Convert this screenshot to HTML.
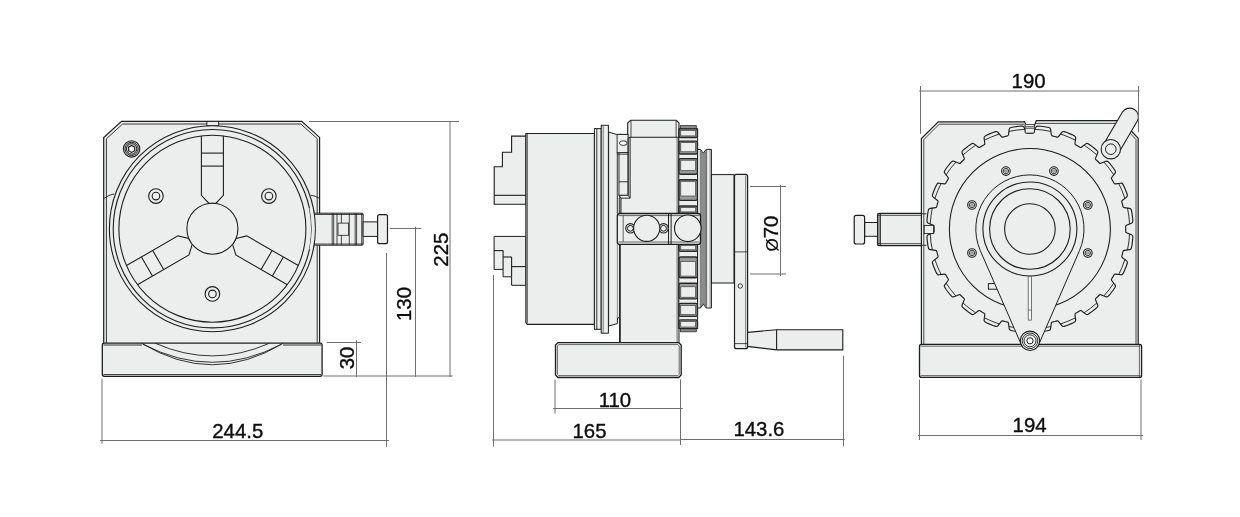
<!DOCTYPE html>
<html><head><meta charset="utf-8"><title>Dimensions</title>
<style>html,body{margin:0;padding:0;background:#fff;}body{width:1240px;height:517px;overflow:hidden;font-family:"Liberation Sans",sans-serif;}svg{display:block;will-change:transform;}</style>
</head><body>
<svg width="1240" height="517" viewBox="0 0 1240 517" font-family="'Liberation Sans', Arial, sans-serif">
<path d="M121.50,121.40 L301.80,121.40 L319.60,137.40 L319.60,343.50 L103.70,343.50 L103.70,137.60 Z" fill="#eceeed" stroke="#1e1e1e" stroke-width="1.2" stroke-linejoin="miter"/>
<path d="M122.60,124.00 L300.80,124.00 L317.20,138.60 L317.20,343.50 L106.40,343.50 L106.40,138.80 Z" fill="none" stroke="#2a2a2a" stroke-width="0.95" stroke-linejoin="miter"/>
<rect x="206.90" y="121.40" width="11.70" height="4.30" rx="0" fill="#eceeed" stroke="#1e1e1e" stroke-width="0.9"/>
<path d="M103.7,198.6 Q109,194.6 114.3,193.9" fill="none" stroke="#1e1e1e" stroke-width="0.9" />
<path d="M319.6,198.4 Q315,195.6 310.5,195.2" fill="none" stroke="#1e1e1e" stroke-width="0.9" />
<circle cx="212.40" cy="228.70" r="103.00" fill="#eceeed" stroke="#1e1e1e" stroke-width="1.1"/>
<circle cx="212.40" cy="228.70" r="99.20" fill="none" stroke="#1e1e1e" stroke-width="1.1"/>
<circle cx="212.40" cy="228.70" r="93.50" fill="none" stroke="#1e1e1e" stroke-width="1.1"/>
<path d="M201.40,135.85 L201.40,195.30 L208.95,203.40 L215.85,203.40 L223.40,195.30 L223.40,135.85" fill="none" stroke="#1e1e1e" stroke-width="1.1" stroke-linejoin="miter"/>
<line x1="201.40" y1="153.10" x2="223.40" y2="153.10" stroke="#1e1e1e" stroke-width="1.1"/>
<line x1="201.40" y1="166.10" x2="223.40" y2="166.10" stroke="#1e1e1e" stroke-width="1.1"/>
<path d="M298.31,265.60 L246.83,235.87 L236.04,238.36 L232.59,244.34 L235.83,254.93 L287.31,284.65" fill="none" stroke="#1e1e1e" stroke-width="1.1" stroke-linejoin="miter"/>
<line x1="283.37" y1="256.97" x2="272.37" y2="276.03" stroke="#1e1e1e" stroke-width="1.1"/>
<line x1="272.11" y1="250.47" x2="261.11" y2="269.53" stroke="#1e1e1e" stroke-width="1.1"/>
<path d="M137.49,284.65 L188.97,254.93 L192.21,244.34 L188.76,238.36 L177.97,235.87 L126.49,265.60" fill="none" stroke="#1e1e1e" stroke-width="1.1" stroke-linejoin="miter"/>
<line x1="152.43" y1="276.03" x2="141.43" y2="256.97" stroke="#1e1e1e" stroke-width="1.1"/>
<line x1="163.69" y1="269.53" x2="152.69" y2="250.47" stroke="#1e1e1e" stroke-width="1.1"/>
<circle cx="212.40" cy="228.70" r="25.50" fill="#eceeed" stroke="#1e1e1e" stroke-width="1.1"/>
<circle cx="155.94" cy="196.10" r="7.30" fill="none" stroke="#1e1e1e" stroke-width="1.1"/>
<circle cx="155.94" cy="196.10" r="3.80" fill="none" stroke="#1e1e1e" stroke-width="1.1"/>
<circle cx="268.86" cy="196.10" r="7.30" fill="none" stroke="#1e1e1e" stroke-width="1.1"/>
<circle cx="268.86" cy="196.10" r="3.80" fill="none" stroke="#1e1e1e" stroke-width="1.1"/>
<circle cx="212.40" cy="293.90" r="7.30" fill="none" stroke="#1e1e1e" stroke-width="1.1"/>
<circle cx="212.40" cy="293.90" r="3.80" fill="none" stroke="#1e1e1e" stroke-width="1.1"/>
<circle cx="131.60" cy="148.90" r="8.20" fill="#dcdcdc" stroke="#1e1e1e" stroke-width="1.1"/>
<circle cx="131.60" cy="148.90" r="6.60" fill="none" stroke="#1e1e1e" stroke-width="1.0"/>
<circle cx="131.60" cy="148.90" r="5.20" fill="none" stroke="#1e1e1e" stroke-width="1.0"/>
<path d="M134.63,150.65 L131.60,152.40 L128.57,150.65 L128.57,147.15 L131.60,145.40 L134.63,147.15 Z" fill="#fff" stroke="#1e1e1e" stroke-width="1.2" stroke-linejoin="miter"/>
<rect x="314.50" y="213.20" width="48.60" height="32.00" rx="1" fill="#eceeed" stroke="#1e1e1e" stroke-width="1.0"/>
<line x1="314.50" y1="214.50" x2="363.10" y2="214.50" stroke="#1e1e1e" stroke-width="0.8"/>
<line x1="314.50" y1="244.00" x2="363.10" y2="244.00" stroke="#1e1e1e" stroke-width="0.8"/>
<line x1="332.20" y1="213.20" x2="332.20" y2="245.20" stroke="#1e1e1e" stroke-width="0.8"/>
<line x1="333.70" y1="213.20" x2="333.70" y2="245.20" stroke="#1e1e1e" stroke-width="0.8"/>
<line x1="337.00" y1="213.20" x2="337.00" y2="245.20" stroke="#1e1e1e" stroke-width="0.8"/>
<line x1="341.40" y1="213.20" x2="341.40" y2="245.20" stroke="#1e1e1e" stroke-width="0.8"/>
<line x1="349.30" y1="213.20" x2="349.30" y2="245.20" stroke="#1e1e1e" stroke-width="0.8"/>
<line x1="355.20" y1="213.20" x2="355.20" y2="245.20" stroke="#1e1e1e" stroke-width="0.8"/>
<line x1="356.60" y1="213.20" x2="356.60" y2="245.20" stroke="#1e1e1e" stroke-width="0.8"/>
<line x1="361.70" y1="213.20" x2="361.70" y2="245.20" stroke="#1e1e1e" stroke-width="0.8"/>
<rect x="338.00" y="223.10" width="10.60" height="12.20" rx="0" fill="#eceeed" stroke="#1e1e1e" stroke-width="0.8"/>
<rect x="363.10" y="221.90" width="14.50" height="14.50" rx="0" fill="#eceeed" stroke="#1e1e1e" stroke-width="1"/>
<rect x="377.60" y="214.70" width="9.90" height="29.00" rx="2" fill="#eceeed" stroke="#1e1e1e" stroke-width="1.2"/>
<path d="M313.15,207.29 A103,103 0 0 1 313.15,250.11 L309.43,249.32 A99.2,99.2 0 0 0 309.43,208.08 Z" fill="#eceeed" stroke="none"/>
<path d="M313.15,207.29 A103,103 0 0 1 313.15,250.11" fill="none" stroke="#1e1e1e"/>
<rect x="102.30" y="343.10" width="219.80" height="33.20" rx="2" fill="#eceeed" stroke="#1e1e1e" stroke-width="1.3"/>
<line x1="103.50" y1="345.00" x2="142.00" y2="345.00" stroke="#1e1e1e" stroke-width="0.9"/>
<line x1="283.00" y1="345.00" x2="321.00" y2="345.00" stroke="#1e1e1e" stroke-width="0.9"/>
<line x1="103.50" y1="374.60" x2="321.00" y2="374.60" stroke="#1e1e1e" stroke-width="0.9"/>
<path d="M141.6,343.3 Q212.4,386.2 283.1,343.3" fill="none" stroke="#1e1e1e" stroke-width="0.9" />
<path d="M143.2,344.3 Q212.4,380.3 281.5,344.3" fill="none" stroke="#1e1e1e" stroke-width="0.9" />
<path d="M155.4,343.3 Q212.4,368.5 269.3,343.3" fill="none" stroke="#1e1e1e" stroke-width="0.9" />
<line x1="309.00" y1="121.50" x2="459.00" y2="121.50" stroke="#707070" stroke-width="1"/>
<line x1="450.00" y1="121.00" x2="450.00" y2="377.00" stroke="#707070" stroke-width="1"/>
<line x1="389.80" y1="228.50" x2="421.20" y2="228.50" stroke="#707070" stroke-width="1"/>
<line x1="415.50" y1="226.70" x2="415.50" y2="377.00" stroke="#707070" stroke-width="1"/>
<line x1="326.60" y1="342.50" x2="360.90" y2="342.50" stroke="#707070" stroke-width="1"/>
<line x1="356.50" y1="340.30" x2="356.50" y2="377.00" stroke="#707070" stroke-width="1"/>
<line x1="323.40" y1="376.00" x2="452.70" y2="376.00" stroke="#707070" stroke-width="1"/>
<line x1="386.50" y1="253.00" x2="386.50" y2="446.80" stroke="#707070" stroke-width="1"/>
<line x1="102.00" y1="378.70" x2="102.00" y2="443.70" stroke="#707070" stroke-width="1"/>
<line x1="100.00" y1="440.50" x2="389.00" y2="440.50" stroke="#707070" stroke-width="1"/>
<text x="237.80" y="438.20" font-size="20.4" text-anchor="middle" fill="#0c0c0c" stroke="#0c0c0c" stroke-width="0.35">244.5</text>
<text x="448.40" y="249.60" font-size="20.4" text-anchor="middle" fill="#0c0c0c" stroke="#0c0c0c" stroke-width="0.35" transform="rotate(-90 448.40 249.60)">225</text>
<text x="411.00" y="304.00" font-size="20.4" text-anchor="middle" fill="#0c0c0c" stroke="#0c0c0c" stroke-width="0.35" transform="rotate(-90 411.00 304.00)">130</text>
<text x="353.90" y="358.00" font-size="20.4" text-anchor="middle" fill="#0c0c0c" stroke="#0c0c0c" stroke-width="0.35" transform="rotate(-90 353.90 358.00)">30</text>
<path d="M526.00,136.10 L511.60,136.10 L511.60,152.30 L502.40,152.30 L502.40,166.80 L494.20,166.80 L494.20,204.30 L526.00,204.30 Z" fill="#eceeed" stroke="#1e1e1e" stroke-width="1.1" stroke-linejoin="miter"/>
<line x1="494.20" y1="195.30" x2="526.00" y2="195.30" stroke="#1e1e1e" stroke-width="1.1"/>
<path d="M526.00,236.40 L494.10,236.40 L494.10,269.40 L503.10,269.40 L503.10,276.80 L511.60,276.80 L511.60,285.30 L526.00,285.30 Z" fill="#eceeed" stroke="#1e1e1e" stroke-width="1.0" stroke-linejoin="miter"/>
<line x1="494.10" y1="250.60" x2="503.10" y2="250.60" stroke="#1e1e1e" stroke-width="1.1"/>
<line x1="503.10" y1="250.60" x2="503.10" y2="269.40" stroke="#1e1e1e" stroke-width="1.1"/>
<line x1="503.10" y1="257.00" x2="511.60" y2="257.00" stroke="#1e1e1e" stroke-width="1.1"/>
<line x1="511.60" y1="257.00" x2="511.60" y2="276.80" stroke="#1e1e1e" stroke-width="1.1"/>
<line x1="511.60" y1="266.60" x2="526.00" y2="266.60" stroke="#1e1e1e" stroke-width="1.1"/>
<path d="M608.60,132.00 L616.10,134.40 L621.00,134.40 L621.00,317.80 L617.40,317.80 L617.40,323.60 L608.60,326.00 Z" fill="#eceeed" stroke="#1e1e1e" stroke-width="1" stroke-linejoin="miter"/>
<rect x="619.80" y="134.40" width="59.20" height="208.60" rx="0" fill="#eceeed" stroke="#1e1e1e" stroke-width="1"/>
<path d="M525.90,133.50 L594.50,133.50 L594.50,324.40 L527.50,324.40 L525.90,322.80 Z" fill="#eceeed" stroke="#1e1e1e" stroke-width="1.2" stroke-linejoin="miter"/>
<line x1="527.30" y1="134.00" x2="527.30" y2="323.00" stroke="#444" stroke-width="0.9"/>
<rect x="594.40" y="128.60" width="6.80" height="200.70" rx="0" fill="#eceeed" stroke="#1e1e1e" stroke-width="1"/>
<line x1="596.80" y1="128.60" x2="596.80" y2="329.30" stroke="#1e1e1e" stroke-width="0.9"/>
<rect x="601.20" y="125.30" width="7.20" height="207.90" rx="0" fill="#eceeed" stroke="#1e1e1e" stroke-width="1"/>
<line x1="603.20" y1="125.30" x2="603.20" y2="333.20" stroke="#555" stroke-width="0.8"/>
<path d="M627.70,123.00 L630.60,120.20 L676.20,120.20 L679.00,123.00 L679.00,137.30 L630.10,137.30 L627.70,138.20 Z" fill="#eceeed" stroke="#1e1e1e" stroke-width="1.1" stroke-linejoin="miter"/>
<line x1="631.00" y1="120.40" x2="631.00" y2="137.30" stroke="#1e1e1e" stroke-width="0.8"/>
<line x1="676.10" y1="120.40" x2="676.10" y2="137.30" stroke="#1e1e1e" stroke-width="0.8"/>
<line x1="677.10" y1="137.30" x2="677.10" y2="343.00" stroke="#444" stroke-width="0.8"/>
<line x1="630.10" y1="137.30" x2="630.10" y2="198.20" stroke="#1e1e1e" stroke-width="1"/>
<rect x="617.10" y="134.40" width="11.00" height="18.30" rx="0" fill="#eceeed" stroke="#1e1e1e" stroke-width="0.9"/>
<ellipse cx="623.3" cy="143.1" rx="3.8" ry="2.3" fill="#fff" stroke="#1e1e1e" stroke-width="0.9"/>
<rect x="619.00" y="152.70" width="9.10" height="42.60" rx="0" fill="#eceeed" stroke="#1e1e1e" stroke-width="0.9"/>
<line x1="617.10" y1="154.20" x2="628.10" y2="154.20" stroke="#1e1e1e" stroke-width="0.8"/>
<line x1="619.00" y1="181.80" x2="628.10" y2="181.80" stroke="#1e1e1e" stroke-width="0.9"/>
<path d="M619.00,195.30 L628.10,195.30 L630.10,198.20 L621.00,198.20 Z" fill="#eceeed" stroke="#1e1e1e" stroke-width="0.9" stroke-linejoin="miter"/>
<line x1="628.10" y1="138.20" x2="628.10" y2="195.30" stroke="#1e1e1e" stroke-width="0.9"/>
<line x1="617.30" y1="152.70" x2="617.30" y2="213.50" stroke="#1e1e1e" stroke-width="0.9"/>
<line x1="619.20" y1="198.00" x2="619.20" y2="213.50" stroke="#555" stroke-width="0.8"/>
<line x1="621.00" y1="198.20" x2="621.00" y2="213.50" stroke="#1e1e1e" stroke-width="0.9"/>
<line x1="617.40" y1="244.40" x2="617.40" y2="317.80" stroke="#777" stroke-width="0.8"/>
<line x1="619.90" y1="244.40" x2="619.90" y2="343.00" stroke="#1e1e1e" stroke-width="1.5"/>
<rect x="678.80" y="128.80" width="18.80" height="199.80" rx="0" fill="#eceeed" stroke="#1e1e1e" stroke-width="1.0"/>
<rect x="680.40" y="125.60" width="15.90" height="3.20" rx="0" fill="#8a8a8a" stroke="#333" stroke-width="0.8"/>
<rect x="680.40" y="328.60" width="15.90" height="3.20" rx="0" fill="#8a8a8a" stroke="#333" stroke-width="0.8"/>
<rect x="679.00" y="128.80" width="18.40" height="8.70" rx="1.6" fill="#9a9a9a" stroke="#262626" stroke-width="1.35"/>
<rect x="680.80" y="130.40" width="14.80" height="5.50" rx="0" fill="#eceeed" stroke="#2a2a2a" stroke-width="0.6"/>
<rect x="679.00" y="319.90" width="18.40" height="8.70" rx="1.6" fill="#9a9a9a" stroke="#262626" stroke-width="1.35"/>
<rect x="680.80" y="321.50" width="14.80" height="5.50" rx="0" fill="#eceeed" stroke="#2a2a2a" stroke-width="0.6"/>
<rect x="679.00" y="141.10" width="18.40" height="12.90" rx="1.6" fill="#9a9a9a" stroke="#262626" stroke-width="1.35"/>
<rect x="680.80" y="142.70" width="14.80" height="9.10" rx="0" fill="#eceeed" stroke="#2a2a2a" stroke-width="0.6"/>
<rect x="679.00" y="303.40" width="18.40" height="12.90" rx="1.6" fill="#9a9a9a" stroke="#262626" stroke-width="1.35"/>
<rect x="680.80" y="305.60" width="14.80" height="9.10" rx="0" fill="#eceeed" stroke="#2a2a2a" stroke-width="0.6"/>
<rect x="679.00" y="158.60" width="18.40" height="15.60" rx="1.6" fill="#9a9a9a" stroke="#262626" stroke-width="1.35"/>
<rect x="680.80" y="160.20" width="14.80" height="10.40" rx="0" fill="#eceeed" stroke="#2a2a2a" stroke-width="0.6"/>
<rect x="679.00" y="283.20" width="18.40" height="15.60" rx="1.6" fill="#9a9a9a" stroke="#262626" stroke-width="1.35"/>
<rect x="680.80" y="286.80" width="14.80" height="10.40" rx="0" fill="#eceeed" stroke="#2a2a2a" stroke-width="0.6"/>
<rect x="679.00" y="179.70" width="18.40" height="20.70" rx="1.6" fill="#9a9a9a" stroke="#262626" stroke-width="1.35"/>
<rect x="680.80" y="181.30" width="14.80" height="14.70" rx="0" fill="#eceeed" stroke="#2a2a2a" stroke-width="0.6"/>
<rect x="679.00" y="257.00" width="18.40" height="20.70" rx="1.6" fill="#9a9a9a" stroke="#262626" stroke-width="1.35"/>
<rect x="680.80" y="261.40" width="14.80" height="14.70" rx="0" fill="#eceeed" stroke="#2a2a2a" stroke-width="0.6"/>
<rect x="679.00" y="206.00" width="18.40" height="7.50" rx="1.6" fill="#9a9a9a" stroke="#262626" stroke-width="1.35"/>
<rect x="680.80" y="207.60" width="14.80" height="4.30" rx="0" fill="#eceeed" stroke="#2a2a2a" stroke-width="0.6"/>
<rect x="679.00" y="243.90" width="18.40" height="7.50" rx="1.6" fill="#9a9a9a" stroke="#262626" stroke-width="1.35"/>
<rect x="680.80" y="245.50" width="14.80" height="4.30" rx="0" fill="#eceeed" stroke="#2a2a2a" stroke-width="0.6"/>
<path d="M697.60,149.40 L700.40,149.40 L703.30,153.20 L706.20,149.40 L711.40,149.40 L711.40,308.00 L706.20,308.00 L703.30,304.20 L700.40,308.00 L697.60,308.00 Z" fill="#eceeed" stroke="#1e1e1e" stroke-width="1" stroke-linejoin="miter"/>
<path d="M700.30,150.40 L703.30,154.20 L705.50,151.40 L705.50,306.00 L703.30,303.20 L700.30,307.00 Z" fill="#8c8c8c" stroke="#555" stroke-width="0.6" stroke-linejoin="miter"/>
<line x1="706.60" y1="150.00" x2="706.60" y2="307.50" stroke="#444" stroke-width="0.8"/>
<line x1="710.10" y1="150.00" x2="710.10" y2="307.50" stroke="#666" stroke-width="0.7"/>
<rect x="711.50" y="174.60" width="22.50" height="108.40" rx="0" fill="#eceeed" stroke="#1e1e1e" stroke-width="1"/>
<rect x="734.50" y="174.40" width="13.10" height="174.30" rx="2" fill="#eceeed" stroke="#1e1e1e" stroke-width="1.2"/>
<line x1="745.70" y1="175.50" x2="745.70" y2="347.50" stroke="#555" stroke-width="0.8"/>
<line x1="735.00" y1="343.60" x2="747.20" y2="343.60" stroke="#1e1e1e" stroke-width="0.8"/>
<line x1="735.00" y1="251.90" x2="747.20" y2="251.90" stroke="#1e1e1e" stroke-width="0.8"/>
<circle cx="740.20" cy="286.00" r="2.20" fill="#fff" stroke="#1e1e1e" stroke-width="0.9"/>
<path d="M747.60,332.40 L776.60,329.70 L842.80,329.70 L842.80,349.90 L776.60,349.90 L747.60,346.40 Z" fill="#eceeed" stroke="#1e1e1e" stroke-width="1.1" stroke-linejoin="miter"/>
<line x1="776.60" y1="329.70" x2="776.60" y2="349.90" stroke="#1e1e1e" stroke-width="1.1"/>
<rect x="617.30" y="213.50" width="83.20" height="30.90" rx="2.5" fill="#eceeed" stroke="#1e1e1e" stroke-width="1.3"/>
<line x1="618.50" y1="215.60" x2="699.50" y2="215.60" stroke="#444" stroke-width="0.8"/>
<line x1="618.50" y1="242.00" x2="699.50" y2="242.00" stroke="#444" stroke-width="0.8"/>
<line x1="623.20" y1="215.60" x2="623.20" y2="242.00" stroke="#444" stroke-width="0.8"/>
<line x1="668.50" y1="213.50" x2="668.50" y2="244.40" stroke="#1e1e1e" stroke-width="1"/>
<line x1="671.10" y1="213.50" x2="671.10" y2="244.40" stroke="#1e1e1e" stroke-width="1"/>
<circle cx="630.40" cy="228.30" r="4.70" fill="#eceeed" stroke="#1e1e1e" stroke-width="1.1"/>
<circle cx="630.40" cy="228.30" r="2.90" fill="#eceeed" stroke="#1e1e1e" stroke-width="1"/>
<circle cx="663.50" cy="228.30" r="4.70" fill="#eceeed" stroke="#1e1e1e" stroke-width="1.1"/>
<circle cx="663.50" cy="228.30" r="2.90" fill="#eceeed" stroke="#1e1e1e" stroke-width="1"/>
<circle cx="646.70" cy="228.30" r="13.10" fill="#eceeed" stroke="#1e1e1e" stroke-width="1.1"/>
<circle cx="687.80" cy="228.30" r="13.30" fill="#eceeed" stroke="#1e1e1e" stroke-width="1.1"/>
<path d="M558.00,342.60 L678.70,342.60 L681.20,345.10 L681.20,375.00 L678.70,377.50 L558.00,377.50 L555.50,375.00 L555.50,345.10 Z" fill="#eceeed" stroke="#1e1e1e" stroke-width="1.3" stroke-linejoin="miter"/>
<path d="M558.60,344.60 L677.80,344.60 L679.20,346.00 L679.20,374.20 L677.80,375.60 L558.60,375.60 L557.40,374.20 L557.40,346.00 Z" fill="none" stroke="#444" stroke-width="0.8" stroke-linejoin="miter"/>
<line x1="750.00" y1="186.50" x2="786.00" y2="186.50" stroke="#707070" stroke-width="1"/>
<line x1="750.00" y1="274.00" x2="786.00" y2="274.00" stroke="#707070" stroke-width="1"/>
<line x1="780.50" y1="185.00" x2="780.50" y2="276.00" stroke="#707070" stroke-width="1"/>
<text x="778.30" y="233.50" font-size="20.4" text-anchor="middle" fill="#0c0c0c" stroke="#0c0c0c" stroke-width="0.35" transform="rotate(-90 778.30 233.50)"><tspan font-size="17" stroke-width="0.1">Ø</tspan>70</text>
<line x1="555.00" y1="379.60" x2="555.00" y2="413.70" stroke="#707070" stroke-width="1"/>
<line x1="680.50" y1="379.60" x2="680.50" y2="445.00" stroke="#707070" stroke-width="1"/>
<line x1="553.10" y1="408.50" x2="682.80" y2="408.50" stroke="#707070" stroke-width="1"/>
<text x="614.90" y="406.60" font-size="20.4" text-anchor="middle" fill="#0c0c0c" stroke="#0c0c0c" stroke-width="0.35">110</text>
<line x1="493.50" y1="275.00" x2="493.50" y2="446.40" stroke="#707070" stroke-width="1"/>
<line x1="843.50" y1="355.70" x2="843.50" y2="446.40" stroke="#707070" stroke-width="1"/>
<line x1="492.10" y1="440.00" x2="680.50" y2="440.00" stroke="#707070" stroke-width="1"/>
<line x1="680.50" y1="439.50" x2="844.70" y2="439.50" stroke="#707070" stroke-width="1"/>
<text x="589.50" y="438.00" font-size="20.4" text-anchor="middle" fill="#0c0c0c" stroke="#0c0c0c" stroke-width="0.35">165</text>
<text x="758.90" y="436.00" font-size="20.4" text-anchor="middle" fill="#0c0c0c" stroke="#0c0c0c" stroke-width="0.35">143.6</text>
<rect x="877.50" y="213.30" width="48.70" height="32.40" rx="1.5" fill="#eceeed" stroke="#1e1e1e" stroke-width="1.2"/>
<rect x="877.90" y="214.00" width="2.60" height="31.00" rx="0" fill="#8c8c8c" stroke="none" stroke-width="0"/>
<line x1="880.50" y1="213.30" x2="880.50" y2="245.70" stroke="#1e1e1e" stroke-width="0.8"/>
<line x1="878.00" y1="215.30" x2="926.00" y2="215.30" stroke="#1e1e1e" stroke-width="0.8"/>
<line x1="878.00" y1="243.70" x2="926.00" y2="243.70" stroke="#1e1e1e" stroke-width="0.8"/>
<rect x="864.60" y="222.50" width="12.90" height="13.80" rx="0" fill="#eceeed" stroke="#1e1e1e" stroke-width="1"/>
<rect x="854.20" y="215.30" width="10.40" height="28.70" rx="2" fill="#eceeed" stroke="#1e1e1e" stroke-width="1.2"/>
<path d="M938.30,121.90 L1022.90,121.90 L1024.60,121.60 L1025.90,124.70 L1034.80,124.70 L1036.30,120.60 L1121.50,120.60 L1138.20,138.30 L1138.20,344.50 L921.40,344.50 L921.40,138.50 Z" fill="#eceeed" stroke="#1e1e1e" stroke-width="1.2" stroke-linejoin="miter"/>
<path d="M939.30,124.20 L1024.50,124.20" fill="none" stroke="#333" stroke-width="0.9" stroke-linejoin="miter"/>
<path d="M1036.00,123.40 L1120.50,123.40 L1136.00,139.50 L1136.00,344.00" fill="none" stroke="#333" stroke-width="0.9" stroke-linejoin="miter"/>
<path d="M939.30,124.20 L923.80,139.60 L923.80,344.00" fill="none" stroke="#333" stroke-width="0.9" stroke-linejoin="miter"/>
<line x1="921.40" y1="213.80" x2="926.50" y2="213.80" stroke="#1e1e1e" stroke-width="0.9"/>
<line x1="921.40" y1="245.30" x2="926.50" y2="245.30" stroke="#1e1e1e" stroke-width="0.9"/>
<path d="M1125.66,226.56 Q1125.64,225.66 1126.47,225.31 L1131.52,223.19 Q1132.90,222.61 1132.82,221.11 L1132.65,218.20 L1131.95,212.84 L1131.35,209.98 Q1131.05,208.51 1129.56,208.31 L1124.14,207.57 Q1123.24,207.45 1123.03,206.58 L1122.46,204.20 L1121.77,201.85 Q1121.51,200.99 1122.23,200.44 L1126.55,197.09 Q1127.74,196.17 1127.27,194.74 L1126.36,191.97 L1124.29,186.98 L1122.97,184.37 Q1122.30,183.03 1120.81,183.22 L1115.38,183.91 Q1114.49,184.02 1114.05,183.23 L1112.88,181.09 L1111.61,179.00 Q1111.14,178.23 1111.69,177.52 L1115.00,173.16 Q1115.91,171.97 1115.09,170.71 L1113.49,168.27 L1110.19,163.98 L1108.25,161.80 Q1107.25,160.69 1105.86,161.25 L1100.80,163.32 Q1099.96,163.66 1099.34,163.01 L1097.65,161.25 L1095.89,159.56 Q1095.24,158.94 1095.58,158.10 L1097.65,153.04 Q1098.21,151.65 1097.10,150.65 L1094.92,148.71 L1090.63,145.41 L1088.19,143.81 Q1086.93,142.99 1085.74,143.90 L1081.38,147.21 Q1080.67,147.76 1079.90,147.29 L1077.81,146.02 L1075.67,144.85 Q1074.88,144.41 1074.99,143.52 L1075.68,138.09 Q1075.87,136.60 1074.53,135.93 L1071.92,134.61 L1066.93,132.54 L1064.16,131.63 Q1062.73,131.16 1061.81,132.35 L1058.46,136.67 Q1057.91,137.39 1057.05,137.13 L1054.70,136.44 L1052.32,135.87 Q1051.45,135.66 1051.33,134.76 L1050.59,129.34 Q1050.39,127.85 1048.92,127.55 L1046.06,126.95 L1040.70,126.25 L1037.79,126.08 Q1036.29,126.00 1035.71,127.38 L1033.59,132.43 Q1033.24,133.26 1032.34,133.24 L1029.90,133.18 L1027.46,133.24 Q1026.56,133.26 1026.21,132.43 L1024.09,127.38 Q1023.51,126.00 1022.01,126.08 L1019.10,126.25 L1013.74,126.95 L1010.88,127.55 Q1009.41,127.85 1009.21,129.34 L1008.47,134.76 Q1008.35,135.66 1007.48,135.87 L1005.10,136.44 L1002.75,137.13 Q1001.89,137.39 1001.34,136.67 L997.99,132.35 Q997.07,131.16 995.64,131.63 L992.87,132.54 L987.88,134.61 L985.27,135.93 Q983.93,136.60 984.12,138.09 L984.81,143.52 Q984.92,144.41 984.13,144.85 L981.99,146.02 L979.90,147.29 Q979.13,147.76 978.42,147.21 L974.06,143.90 Q972.87,142.99 971.61,143.81 L969.17,145.41 L964.88,148.71 L962.70,150.65 Q961.59,151.65 962.15,153.04 L964.22,158.10 Q964.56,158.94 963.91,159.56 L962.15,161.25 L960.46,163.01 Q959.84,163.66 959.00,163.32 L953.94,161.25 Q952.55,160.69 951.55,161.80 L949.61,163.98 L946.31,168.27 L944.71,170.71 Q943.89,171.97 944.80,173.16 L948.11,177.52 Q948.66,178.23 948.19,179.00 L946.92,181.09 L945.75,183.23 Q945.31,184.02 944.42,183.91 L938.99,183.22 Q937.50,183.03 936.83,184.37 L935.51,186.98 L933.44,191.97 L932.53,194.74 Q932.06,196.17 933.25,197.09 L937.57,200.44 Q938.29,200.99 938.03,201.85 L937.34,204.20 L936.77,206.58 Q936.56,207.45 935.66,207.57 L930.24,208.31 Q928.75,208.51 928.45,209.98 L927.85,212.84 L927.15,218.20 L926.98,221.11 Q926.90,222.61 928.28,223.19 L933.33,225.31 Q934.16,225.66 934.14,226.56 L934.08,229.00 L934.14,231.44 Q934.16,232.34 933.33,232.69 L928.28,234.81 Q926.90,235.39 926.98,236.89 L927.15,239.80 L927.85,245.16 L928.45,248.02 Q928.75,249.49 930.24,249.69 L935.66,250.43 Q936.56,250.55 936.77,251.42 L937.34,253.80 L938.03,256.15 Q938.29,257.01 937.57,257.56 L933.25,260.91 Q932.06,261.83 932.53,263.26 L933.44,266.03 L935.51,271.02 L936.83,273.63 Q937.50,274.97 938.99,274.78 L944.42,274.09 Q945.31,273.98 945.75,274.77 L946.92,276.91 L948.19,279.00 Q948.66,279.77 948.11,280.48 L944.80,284.84 Q943.89,286.03 944.71,287.29 L946.31,289.73 L949.61,294.02 L951.55,296.20 Q952.55,297.31 953.94,296.75 L959.00,294.68 Q959.84,294.34 960.46,294.99 L962.15,296.75 L963.91,298.44 Q964.56,299.06 964.22,299.90 L962.15,304.96 Q961.59,306.35 962.70,307.35 L964.88,309.29 L969.17,312.59 L971.61,314.19 Q972.87,315.01 974.06,314.10 L978.42,310.79 Q979.13,310.24 979.90,310.71 L981.99,311.98 L984.13,313.15 Q984.92,313.59 984.81,314.48 L984.12,319.91 Q983.93,321.40 985.27,322.07 L987.88,323.39 L992.87,325.46 L995.64,326.37 Q997.07,326.84 997.99,325.65 L1001.34,321.33 Q1001.89,320.61 1002.75,320.87 L1005.10,321.56 L1007.48,322.13 Q1008.35,322.34 1008.47,323.24 L1009.21,328.66 Q1009.41,330.15 1010.88,330.45 L1013.74,331.05 L1019.10,331.75 L1022.01,331.92 Q1023.51,332.00 1024.09,330.62 L1026.21,325.57 Q1026.56,324.74 1027.46,324.76 L1029.90,324.82 L1032.34,324.76 Q1033.24,324.74 1033.59,325.57 L1035.71,330.62 Q1036.29,332.00 1037.79,331.92 L1040.70,331.75 L1046.06,331.05 L1048.92,330.45 Q1050.39,330.15 1050.59,328.66 L1051.33,323.24 Q1051.45,322.34 1052.32,322.13 L1054.70,321.56 L1057.05,320.87 Q1057.91,320.61 1058.46,321.33 L1061.81,325.65 Q1062.73,326.84 1064.16,326.37 L1066.93,325.46 L1071.92,323.39 L1074.53,322.07 Q1075.87,321.40 1075.68,319.91 L1074.99,314.48 Q1074.88,313.59 1075.67,313.15 L1077.81,311.98 L1079.90,310.71 Q1080.67,310.24 1081.38,310.79 L1085.74,314.10 Q1086.93,315.01 1088.19,314.19 L1090.63,312.59 L1094.92,309.29 L1097.10,307.35 Q1098.21,306.35 1097.65,304.96 L1095.58,299.90 Q1095.24,299.06 1095.89,298.44 L1097.65,296.75 L1099.34,294.99 Q1099.96,294.34 1100.80,294.68 L1105.86,296.75 Q1107.25,297.31 1108.25,296.20 L1110.19,294.02 L1113.49,289.73 L1115.09,287.29 Q1115.91,286.03 1115.00,284.84 L1111.69,280.48 Q1111.14,279.77 1111.61,279.00 L1112.88,276.91 L1114.05,274.77 Q1114.49,273.98 1115.38,274.09 L1120.81,274.78 Q1122.30,274.97 1122.97,273.63 L1124.29,271.02 L1126.36,266.03 L1127.27,263.26 Q1127.74,261.83 1126.55,260.91 L1122.23,257.56 Q1121.51,257.01 1121.77,256.15 L1122.46,253.80 L1123.03,251.42 Q1123.24,250.55 1124.14,250.43 L1129.56,249.69 Q1131.05,249.49 1131.35,248.02 L1131.95,245.16 L1132.65,239.80 L1132.82,236.89 Q1132.90,235.39 1131.52,234.81 L1126.47,232.69 Q1125.64,232.34 1125.66,231.44 L1125.72,229.00 Z" fill="#eceeed" stroke="#1e1e1e" stroke-width="1.15" stroke-linejoin="round"/>
<path d="M1129.58,224.06 A99.8,99.8 0 0 0 1127.46,207.97" fill="none" stroke="#1e1e1e" stroke-width="0.9" />
<path d="M1124.90,198.43 A99.8,99.8 0 0 0 1118.69,183.44" fill="none" stroke="#1e1e1e" stroke-width="0.9" />
<path d="M1113.75,174.88 A99.8,99.8 0 0 0 1103.88,162.01" fill="none" stroke="#1e1e1e" stroke-width="0.9" />
<path d="M1096.89,155.02 A99.8,99.8 0 0 0 1084.02,145.15" fill="none" stroke="#1e1e1e" stroke-width="0.9" />
<path d="M1075.46,140.21 A99.8,99.8 0 0 0 1060.47,134.00" fill="none" stroke="#1e1e1e" stroke-width="0.9" />
<path d="M1050.93,131.44 A99.8,99.8 0 0 0 1034.84,129.32" fill="none" stroke="#1e1e1e" stroke-width="0.9" />
<path d="M1024.96,129.32 A99.8,99.8 0 0 0 1008.87,131.44" fill="none" stroke="#1e1e1e" stroke-width="0.9" />
<path d="M999.33,134.00 A99.8,99.8 0 0 0 984.34,140.21" fill="none" stroke="#1e1e1e" stroke-width="0.9" />
<path d="M975.78,145.15 A99.8,99.8 0 0 0 962.91,155.02" fill="none" stroke="#1e1e1e" stroke-width="0.9" />
<path d="M955.92,162.01 A99.8,99.8 0 0 0 946.05,174.88" fill="none" stroke="#1e1e1e" stroke-width="0.9" />
<path d="M941.11,183.44 A99.8,99.8 0 0 0 934.90,198.43" fill="none" stroke="#1e1e1e" stroke-width="0.9" />
<path d="M932.34,207.97 A99.8,99.8 0 0 0 930.22,224.06" fill="none" stroke="#1e1e1e" stroke-width="0.9" />
<path d="M930.22,233.94 A99.8,99.8 0 0 0 932.34,250.03" fill="none" stroke="#1e1e1e" stroke-width="0.9" />
<path d="M934.90,259.57 A99.8,99.8 0 0 0 941.11,274.56" fill="none" stroke="#1e1e1e" stroke-width="0.9" />
<path d="M946.05,283.12 A99.8,99.8 0 0 0 955.92,295.99" fill="none" stroke="#1e1e1e" stroke-width="0.9" />
<path d="M962.91,302.98 A99.8,99.8 0 0 0 975.78,312.85" fill="none" stroke="#1e1e1e" stroke-width="0.9" />
<path d="M984.34,317.79 A99.8,99.8 0 0 0 999.33,324.00" fill="none" stroke="#1e1e1e" stroke-width="0.9" />
<path d="M1008.87,326.56 A99.8,99.8 0 0 0 1024.96,328.68" fill="none" stroke="#1e1e1e" stroke-width="0.9" />
<path d="M1034.84,328.68 A99.8,99.8 0 0 0 1050.93,326.56" fill="none" stroke="#1e1e1e" stroke-width="0.9" />
<path d="M1060.47,324.00 A99.8,99.8 0 0 0 1075.46,317.79" fill="none" stroke="#1e1e1e" stroke-width="0.9" />
<path d="M1084.02,312.85 A99.8,99.8 0 0 0 1096.89,302.98" fill="none" stroke="#1e1e1e" stroke-width="0.9" />
<path d="M1103.88,295.99 A99.8,99.8 0 0 0 1113.75,283.12" fill="none" stroke="#1e1e1e" stroke-width="0.9" />
<path d="M1118.69,274.56 A99.8,99.8 0 0 0 1124.90,259.57" fill="none" stroke="#1e1e1e" stroke-width="0.9" />
<path d="M1127.46,250.03 A99.8,99.8 0 0 0 1129.58,233.94" fill="none" stroke="#1e1e1e" stroke-width="0.9" />
<path d="M1025.1,124.7 L1025.1,132.2 Q1025.1,133.2 1026.1,133.2 L1033.4,133.2 Q1034.4,133.2 1034.4,132.2 L1034.4,124.7" fill="#eceeed" stroke="#1e1e1e" stroke-width="1" />
<rect x="1025.10" y="126.30" width="9.30" height="2.40" rx="0" fill="#b4b4b4" stroke="#444" stroke-width="0.6"/>
<rect x="924.20" y="225.40" width="9.40" height="8.20" rx="0" fill="#eceeed" stroke="#1e1e1e" stroke-width="0.9"/>
<circle cx="1029.90" cy="229.00" r="80.50" fill="none" stroke="#1e1e1e" stroke-width="1.1"/>
<rect x="988.40" y="283.60" width="9.50" height="5.60" rx="0" fill="#eceeed" stroke="#1e1e1e" stroke-width="1.0"/>
<path d="M980.29,250.58 A54.1,54.1 0 1 1 1079.51,250.58 L1038.71,344.59 A9.5,9.5 0 0 1 1021.29,344.59 Z" fill="#eceeed" stroke="#1e1e1e" stroke-width="1" />
<circle cx="1029.90" cy="229.00" r="47.00" fill="none" stroke="#1e1e1e" stroke-width="1.1"/>
<circle cx="1029.90" cy="229.00" r="40.30" fill="none" stroke="#1e1e1e" stroke-width="1.1"/>
<circle cx="1029.90" cy="229.00" r="25.30" fill="none" stroke="#1e1e1e" stroke-width="1.1"/>
<circle cx="1087.83" cy="205.01" r="4.30" fill="#eceeed" stroke="#1e1e1e" stroke-width="1.1"/>
<circle cx="1087.83" cy="205.01" r="2.70" fill="none" stroke="#222" stroke-width="0.9"/>
<circle cx="1087.83" cy="205.01" r="1.20" fill="none" stroke="#444" stroke-width="0.7"/>
<circle cx="1053.89" cy="171.07" r="4.30" fill="#eceeed" stroke="#1e1e1e" stroke-width="1.1"/>
<circle cx="1053.89" cy="171.07" r="2.70" fill="none" stroke="#222" stroke-width="0.9"/>
<circle cx="1053.89" cy="171.07" r="1.20" fill="none" stroke="#444" stroke-width="0.7"/>
<circle cx="1005.91" cy="171.07" r="4.30" fill="#eceeed" stroke="#1e1e1e" stroke-width="1.1"/>
<circle cx="1005.91" cy="171.07" r="2.70" fill="none" stroke="#222" stroke-width="0.9"/>
<circle cx="1005.91" cy="171.07" r="1.20" fill="none" stroke="#444" stroke-width="0.7"/>
<circle cx="971.97" cy="205.01" r="4.30" fill="#eceeed" stroke="#1e1e1e" stroke-width="1.1"/>
<circle cx="971.97" cy="205.01" r="2.70" fill="none" stroke="#222" stroke-width="0.9"/>
<circle cx="971.97" cy="205.01" r="1.20" fill="none" stroke="#444" stroke-width="0.7"/>
<circle cx="971.97" cy="252.99" r="4.30" fill="#eceeed" stroke="#1e1e1e" stroke-width="1.1"/>
<circle cx="971.97" cy="252.99" r="2.70" fill="none" stroke="#222" stroke-width="0.9"/>
<circle cx="971.97" cy="252.99" r="1.20" fill="none" stroke="#444" stroke-width="0.7"/>
<circle cx="1087.83" cy="252.99" r="4.30" fill="#eceeed" stroke="#1e1e1e" stroke-width="1.1"/>
<circle cx="1087.83" cy="252.99" r="2.70" fill="none" stroke="#222" stroke-width="0.9"/>
<circle cx="1087.83" cy="252.99" r="1.20" fill="none" stroke="#444" stroke-width="0.7"/>
<rect x="1028.20" y="276.30" width="3.30" height="43.80" rx="0" fill="#f6f6f6" stroke="#555" stroke-width="0.8"/>
<line x1="1028.20" y1="310.00" x2="1031.50" y2="310.00" stroke="#444" stroke-width="0.7"/>
<rect x="919.50" y="344.40" width="222.10" height="33.00" rx="2" fill="#eceeed" stroke="#1e1e1e" stroke-width="1.3"/>
<line x1="920.50" y1="346.20" x2="1140.60" y2="346.20" stroke="#444" stroke-width="0.8"/>
<line x1="920.50" y1="375.60" x2="1140.60" y2="375.60" stroke="#444" stroke-width="0.8"/>
<line x1="1139.40" y1="345.00" x2="1139.40" y2="377.00" stroke="#444" stroke-width="0.8"/>
<circle cx="1030.00" cy="340.80" r="9.70" fill="#eceeed" stroke="#1e1e1e" stroke-width="1.1"/>
<circle cx="1030.00" cy="340.80" r="7.80" fill="none" stroke="#1e1e1e" stroke-width="0.9"/>
<circle cx="1030.00" cy="340.80" r="6.00" fill="none" stroke="#1e1e1e" stroke-width="0.9"/>
<circle cx="1030.00" cy="340.80" r="3.10" fill="#fff" stroke="#1e1e1e" stroke-width="1"/>
<path d="M1118.31,153.59 L1137.31,121.09 A8.7,8.7 0 0 0 1122.29,112.31 L1103.29,144.81 A8.7,8.7 0 0 0 1118.31,153.59 Z" fill="#eceeed" stroke="#1e1e1e" stroke-width="1.1" />
<circle cx="1110.80" cy="149.20" r="9.70" fill="#eceeed" stroke="#1e1e1e" stroke-width="1.1"/>
<circle cx="1110.80" cy="149.20" r="5.30" fill="#eceeed" stroke="#1e1e1e" stroke-width="1"/>
<line x1="919.10" y1="91.00" x2="1139.70" y2="91.00" stroke="#707070" stroke-width="1"/>
<line x1="920.50" y1="86.00" x2="920.50" y2="133.80" stroke="#707070" stroke-width="1"/>
<line x1="1138.50" y1="86.00" x2="1138.50" y2="132.30" stroke="#707070" stroke-width="1"/>
<text x="1028.60" y="87.60" font-size="20.4" text-anchor="middle" fill="#0c0c0c" stroke="#0c0c0c" stroke-width="0.35">190</text>
<line x1="919.50" y1="379.60" x2="919.50" y2="440.00" stroke="#707070" stroke-width="1"/>
<line x1="1141.00" y1="379.60" x2="1141.00" y2="440.00" stroke="#707070" stroke-width="1"/>
<line x1="918.10" y1="435.50" x2="1143.20" y2="435.50" stroke="#707070" stroke-width="1"/>
<text x="1029.60" y="431.80" font-size="20.4" text-anchor="middle" fill="#0c0c0c" stroke="#0c0c0c" stroke-width="0.35">194</text>
</svg>
</body></html>
